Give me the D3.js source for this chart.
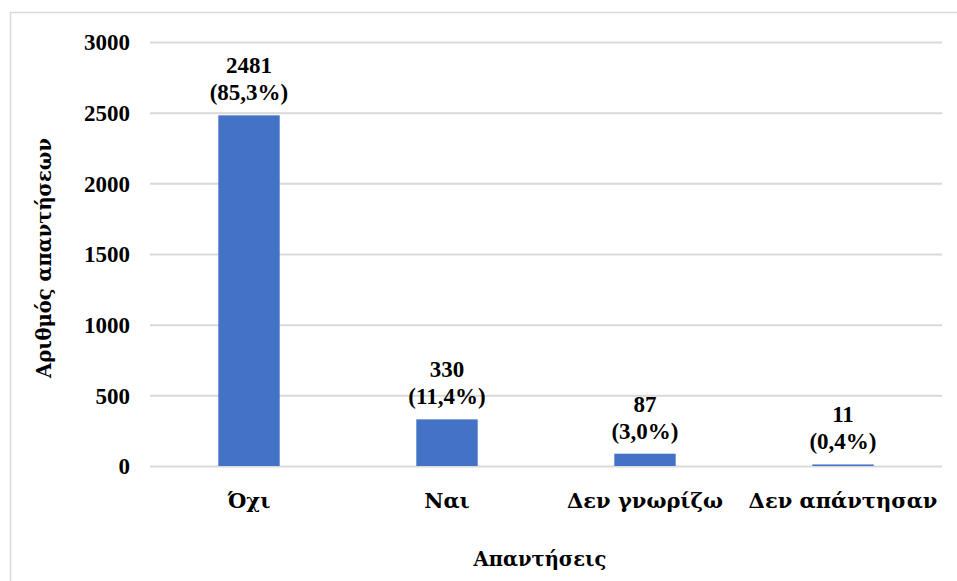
<!DOCTYPE html>
<html><head><meta charset="utf-8">
<script src="https://cdn.jsdelivr.net/npm/d3@7"></script>
<style>body{margin:0;background:#fff}svg{display:block}</style>
</head><body><svg id="c" width="957" height="581"></svg>
<script>
const categories = ["Όχι", "Ναι", "Δεν γνωρίζω", "Δεν απάντησαν"];
const counts = [2481, 330, 87, 11];
const percents = ["(85,3%)", "(11,4%)", "(3,0%)", "(0,4%)"];
const yTicks = [0, 500, 1000, 1500, 2000, 2500, 3000];

const NUMFONT = '"Liberation Serif"';
const GRFONT = '"DejaVu Serif"';
const svg = d3.select("#c");
svg.append("rect").attr("x",10.5).attr("y",12.5).attr("width",960).attr("height",600)
  .attr("fill","#fff").attr("stroke","#d9d9d9").attr("stroke-width",1.5);

const x = d3.scaleBand().domain(categories).range([150, 942]).paddingInner(0.69).paddingOuter(0.345);
const y = d3.scaleLinear().domain([0, 3000]).range([466, 42]);

const gy = svg.append("g").attr("transform","translate(150,0)")
  .call(d3.axisLeft(y).tickValues(yTicks).tickSize(-792).tickPadding(20).tickFormat(d3.format("d")));
gy.select(".domain").remove();
gy.selectAll(".tick line").attr("stroke","#d9d9d9").attr("stroke-width",2);
gy.selectAll(".tick text").style("font-family", NUMFONT).style("font-size","23px").attr("dy","0.34em");

svg.append("g").selectAll("rect").data(categories).join("rect")
  .attr("x", d => x(d)).attr("width", x.bandwidth())
  .attr("y", (d,i) => y(counts[i])).attr("height", (d,i) => y(0) - y(counts[i]))
  .attr("fill","#4472c4");

const gx = svg.append("g").attr("transform","translate(0,466)")
  .call(d3.axisBottom(x).tickSize(0).tickPadding(0));
gx.select(".domain").remove();
gx.selectAll(".tick text").style("font-family", GRFONT).style("font-size","21px").attr("y",42).attr("dy",0);

const lab = svg.append("g").selectAll("g").data(categories).join("g");
lab.append("text").attr("text-anchor","middle").style("font-family", NUMFONT).style("font-size","23px")
  .attr("x", d => x(d) + x.bandwidth()/2).attr("y", (d,i) => y(counts[i]) - 42).text((d,i) => counts[i]);
lab.append("text").attr("text-anchor","middle").style("font-family", NUMFONT).style("font-size","23px")
  .attr("x", d => x(d) + x.bandwidth()/2).attr("y", (d,i) => y(counts[i]) - 15).text((d,i) => percents[i]);

svg.append("text").attr("text-anchor","middle").style("font-family", GRFONT).style("font-size","19.5px")
  .attr("x", 540).attr("y", 566).text("Απαντήσεις");
svg.append("text").attr("text-anchor","middle").style("font-family", GRFONT).style("font-size","19.5px")
  .attr("transform","translate(51,258) rotate(-90)").text("Αριθμός απαντήσεων");

svg.selectAll("text").style("font-weight","bold").attr("fill","#000");
</script></body></html>
